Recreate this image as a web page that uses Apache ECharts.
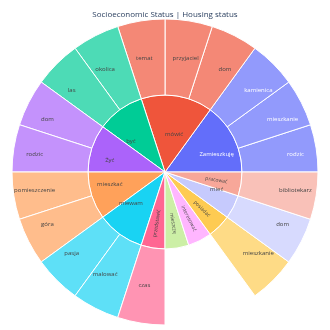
<!DOCTYPE html>
<html>
<head>
<meta charset="utf-8">
<script src="https://cdn.jsdelivr.net/npm/echarts@6/dist/echarts.min.js"></script>
<style>html,body{margin:0;padding:0;background:#fff}#c{width:330px;height:330px}</style>
</head>
<body>
<div id="c"></div>
<script>
const chartTitle = 'Socioeconomic Status | Housing status';
const parents = ['Zamieszkuję','mówić','być','Żyć','mieszkać','miewam','przedstawić','mieszczę','interesować','posiadać','mieć','pracować'];
const parentOwnValues = [null,null,null,null,null,null,null,1,1,null,null,null];
const childNames = [
  ['rodzic','mieszkanie','kamienica'],
  ['dom','przyjaciel','temat'],
  ['okolica','las'],
  ['dom','rodzic'],
  ['pomieszczenie','góra'],
  ['pasja','malować'],
  ['czas'],
  [],
  [],
  ['mieszkanie'],
  ['dom'],
  ['bibliotekarz']
];
const childValues = [[1,1,1],[1,1,1],[1,1],[1,1],[1,1],[1,1],[1],[],[],[1],[1],[1]];

// styles (kept apart from data)
const innerColors = ['#636efa','#ef553b','#00cc96','#ab63fa','#ffa15a','#19d3f3','#ff6692','#ccefa6','#ffb6ff','#fecb52','#c6cafd','#f7a799'];
const outerColors = ['#929afc','#f48876','#4ddbb6','#c492fc','#ffbd8c','#5ee0f7','#ff94b3',null,null,'#fedb86','#d7dafe','#f9c1b8'];
const whiteText = [true,false,false,false,false,false,false,false,false,false,false,false];
const radialLabel = [false,false,false,false,false,false,true,true,true,true,false,true];

const R0 = 0, R1 = 77, R2 = 153;
const innerShift = 19.5, radialShift = 13.5, outerShift = 17;

function valOf(i){
  if (parentOwnValues[i] != null) return parentOwnValues[i];
  return childValues[i].reduce((a,b)=>a+b,0);
}
const total = parents.reduce((s,_,i)=>s+valOf(i),0);

function padFor(aDeg, s){
  const a = aDeg*Math.PI/180;
  const sx = s*Math.cos(a), sy = s*Math.sin(a);
  return [Math.max(0,2*sy), Math.max(0,-2*sx), Math.max(0,-2*sy), Math.max(0,2*sx)];
}
function radialPad(aDeg, s){
  let r = (-aDeg) % 360; if (r < 0) r += 360;
  const flipped = r > 90 && r < 270;
  return flipped ? [0, 2*s, 0, 0] : [0, 0, 0, 2*s];
}

let cum = 0;
const data = parents.map((name, i) => {
  const v = valOf(i);
  const midA = -(cum + v/2)/total*360;
  const txtColor = whiteText[i] ? '#ffffff' : '#444444';
  const node = {
    name: name,
    itemStyle: { color: innerColors[i] },
    label: radialLabel[i]
      ? { rotate: 'radial', fontSize: 5, color: txtColor, padding: radialPad(midA, radialShift) }
      : { rotate: 0, fontSize: 6, color: txtColor, padding: padFor(midA, innerShift) }
  };
  if (childNames[i].length) {
    let cc = cum;
    node.children = childNames[i].map((cn, j) => {
      const cv = childValues[i][j];
      const a = -(cc + cv/2)/total*360;
      cc += cv;
      return {
        name: cn,
        value: cv,
        itemStyle: { color: outerColors[i] },
        label: { rotate: 0, fontSize: 6, color: txtColor, padding: padFor(a, outerShift) }
      };
    });
  } else {
    node.value = v;
  }
  cum += v;
  return node;
});

const chart = echarts.init(document.getElementById('c'), null, {renderer: 'canvas'});
chart.setOption({
  animation: false,
  title: {
    text: chartTitle,
    left: 'center',
    top: 6,
    textStyle: { fontSize: 8, fontWeight: 'normal', color: '#2a3f5f', fontFamily: 'Open Sans' }
  },
  series: [{
    type: 'sunburst',
    center: [165, 172],
    radius: [0, R2],
    startAngle: 0,
    clockwise: false,
    sort: null,
    nodeClick: false,
    emphasis: { disabled: true },
    itemStyle: { borderColor: '#ffffff', borderWidth: 1 },
    label: { fontFamily: 'Open Sans', fontSize: 6, color: '#444', minAngle: 0 },
    levels: [
      {},
      { r0: R0, r: R1 },
      { r0: R1, r: R2 }
    ],
    data: data
  }]
});
</script>
</body>
</html>
